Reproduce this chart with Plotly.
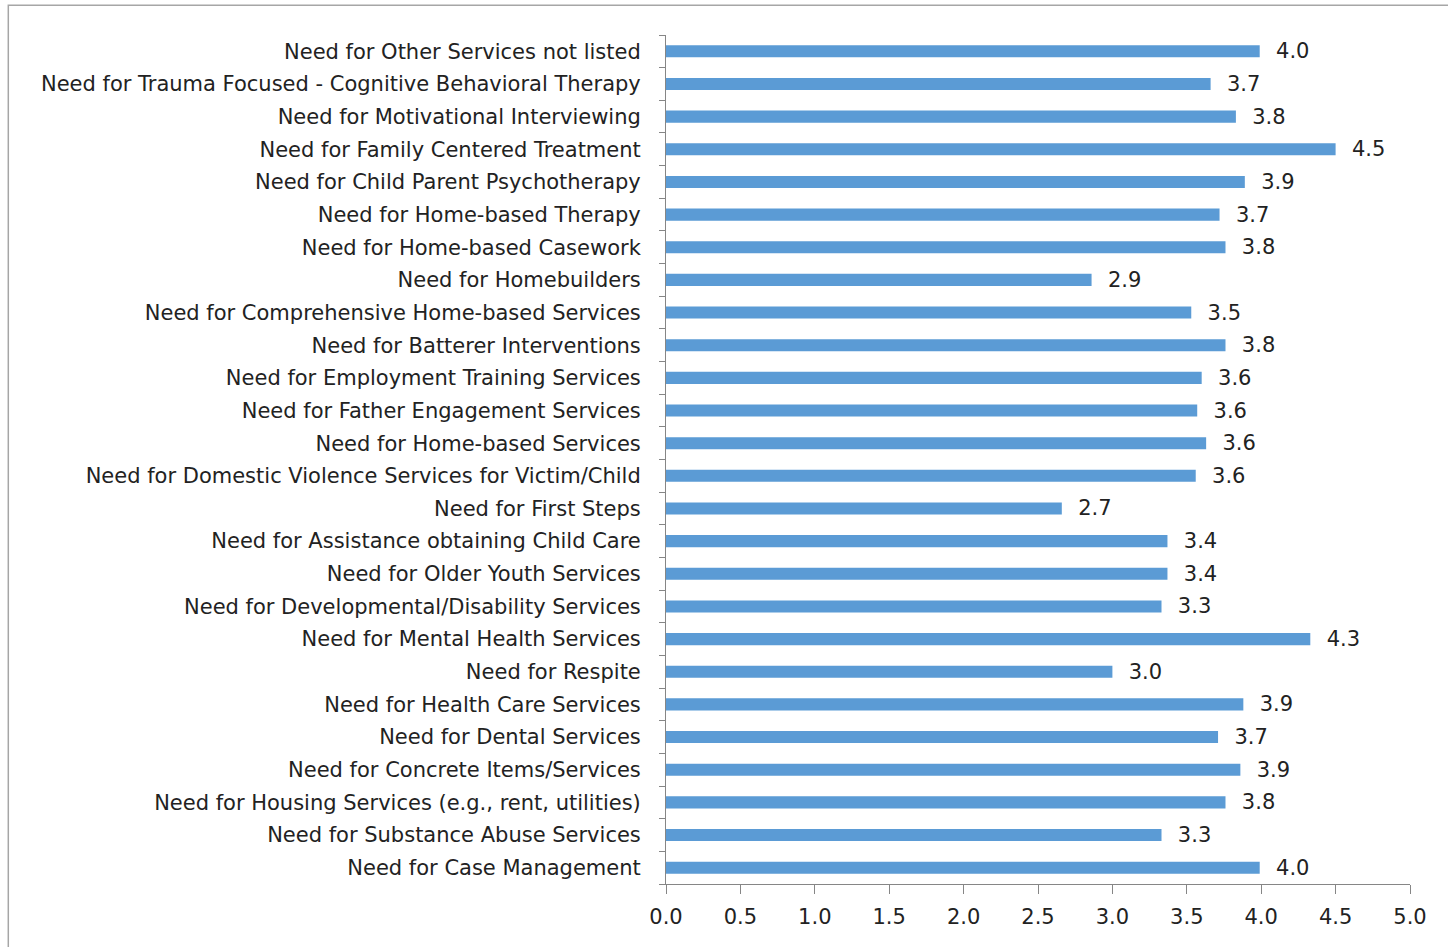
import plotly.graph_objects as go

# categories, listed bottom to top
servicios = [
    "Need for Case Management",
    "Need for Substance Abuse Services",
    "Need for Housing Services (e.g., rent, utilities)",
    "Need for Concrete Items/Services",
    "Need for Dental Services",
    "Need for Health Care Services",
    "Need for Respite",
    "Need for Mental Health Services",
    "Need for Developmental/Disability Services",
    "Need for Older Youth Services",
    "Need for Assistance obtaining Child Care",
    "Need for First Steps",
    "Need for Domestic Violence Services for Victim/Child",
    "Need for Home-based Services",
    "Need for Father Engagement Services",
    "Need for Employment Training Services",
    "Need for Batterer Interventions",
    "Need for Comprehensive Home-based Services",
    "Need for Homebuilders",
    "Need for Home-based Casework",
    "Need for Home-based Therapy",
    "Need for Child Parent Psychotherapy",
    "Need for Family Centered Treatment",
    "Need for Motivational Interviewing",
    "Need for Trauma Focused - Cognitive Behavioral Therapy",
    "Need for Other Services not listed",
]

puntajes = [
    3.99, 3.33, 3.76, 3.86, 3.71, 3.88, 3.00, 4.33, 3.33, 3.37, 3.37, 2.66, 3.56,
    3.63, 3.57, 3.60, 3.76, 3.53, 2.86, 3.76, 3.72, 3.89, 4.50, 3.83, 3.66, 3.99,
]

ticks_x = [0, 0.5, 1.0, 1.5, 2.0, 2.5, 3.0, 3.5, 4.0, 4.5, 5.0]

fuente = "DejaVu Sans"
tam = 21

fig = go.Figure()

fig.add_trace(go.Bar(
    x=puntajes,
    y=servicios,
    orientation="h",
    width=0.37,
    marker=dict(color="#5B9BD5", line=dict(width=0)),
    texttemplate="\u00a0\u00a0%{x:.1f}",
    textposition="outside",
    constraintext="none",
    textfont=dict(family=fuente, size=tam, color="#222222"),
    cliponaxis=False,
))

fig.update_layout(
    width=1448,
    height=947,
    paper_bgcolor="white",
    plot_bgcolor="white",
    margin=dict(l=666, r=38, t=35, b=63),
    showlegend=False,
    font=dict(family=fuente, size=tam, color="#222222"),
    xaxis=dict(
        range=[0, 5],
        tickvals=ticks_x,
        ticktext=[f"{t:.1f}" for t in ticks_x],
        showgrid=False,
        zeroline=False,
        showline=True,
        linecolor="#868686",
        linewidth=1,
        ticks="outside",
        ticklen=9,
        tickcolor="#868686",
        ticklabelstandoff=5,
        tickfont=dict(family=fuente, size=tam, color="#222222"),
    ),
    yaxis=dict(
        type="category",
        categoryorder="array",
        categoryarray=servicios,
        showgrid=False,
        showline=True,
        linecolor="#868686",
        linewidth=1,
        ticks="outside",
        tickson="boundaries",
        ticklen=6,
        tickcolor="#868686",
        ticklabelstandoff=20,
        tickfont=dict(family=fuente, size=tam, color="#222222"),
    ),
    shapes=[dict(
        type="rect", xref="paper", yref="paper",
        x0=-0.884, x1=1.2, y0=-0.2, y1=1.035,
        line=dict(color="#A6A6A6", width=1.5),
        fillcolor="rgba(0,0,0,0)",
    )],
)

# quitar el margen del body para que la figura quede en (0,0)
fig.write_html(
    "out.html",
    config={"displayModeBar": False},
    post_script="document.body.style.margin='0';",
)
